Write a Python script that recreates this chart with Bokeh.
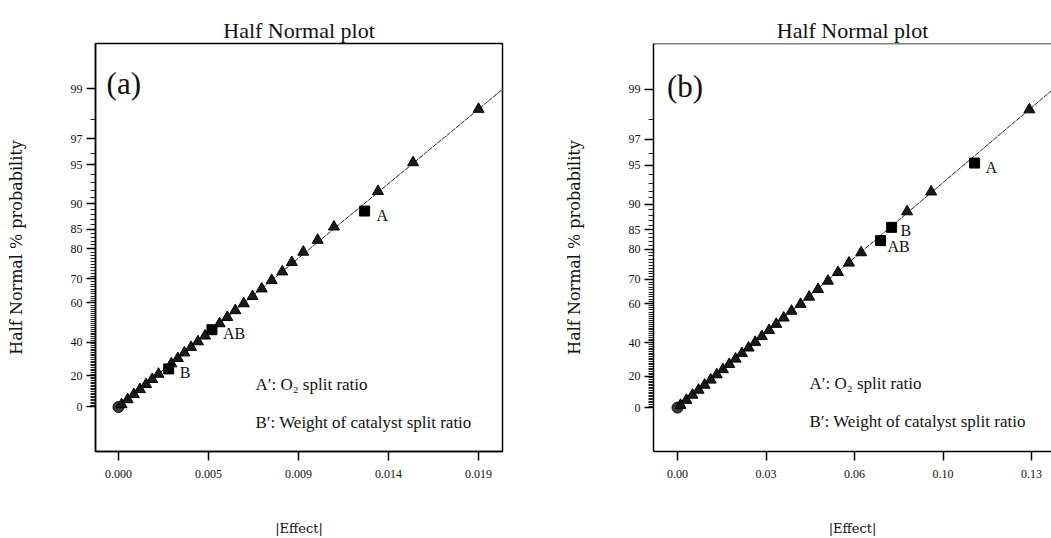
from statistics import NormalDist
from bokeh.plotting import figure
from bokeh.layouts import row
from bokeh.models import FixedTicker, Span, Label, ColumnDataSource, Range1d
from bokeh.embed import file_html
from bokeh.resources import INLINE

# ---------------- data ----------------
prob_a = [1.6, 4.8, 8.1, 11.3, 14.5, 17.7, 21.0, 27.4, 30.6, 33.9, 37.1, 40.3, 43.5,
          50.0, 53.2, 56.5, 59.7, 62.9, 66.1, 69.4, 72.6, 75.8, 79.0, 82.3, 85.5,
          91.9, 95.2, 98.4]
effect_a = [0.00016, 0.00048, 0.00080, 0.00112, 0.00144, 0.00176, 0.00209, 0.00276,
            0.00310, 0.00344, 0.00379, 0.00415, 0.00452, 0.00528, 0.00568, 0.00610,
            0.00654, 0.00700, 0.00748, 0.00800, 0.00855, 0.00905, 0.00965, 0.01040,
            0.01125, 0.01355, 0.01538, 0.01880]
sig_terms_a = ["B", "AB", "A"]
sig_prob_a = [24.2, 46.8, 88.7]
sig_effect_a = [0.00262, 0.00488, 0.01285]

prob_b = [1.6, 4.8, 8.1, 11.3, 14.5, 17.7, 21.0, 24.2, 27.4, 30.6, 33.9, 37.1, 40.3,
          43.5, 46.8, 50.0, 53.2, 56.5, 59.7, 62.9, 66.1, 69.4, 72.6, 75.8, 79.0,
          88.7, 91.9, 98.4]
effect_b = [0.0011, 0.0032, 0.0054, 0.0076, 0.0098, 0.0120, 0.0142, 0.0164, 0.0187,
            0.0210, 0.0233, 0.0257, 0.0281, 0.0305, 0.0331, 0.0357, 0.0384, 0.0412,
            0.0445, 0.0476, 0.0508, 0.0544, 0.0580, 0.0620, 0.0664, 0.0830, 0.0917,
            0.1272]
sig_terms_b = ["AB", "B", "A"]
sig_prob_b = [82.3, 85.5, 95.2]
sig_effect_b = [0.0734, 0.0774, 0.1074]

origin_effect = [0.0]
origin_prob = [0.0]

line_effect_a = [0.0, 0.0201]
line_prob_a = [0.0, 99.0]
line_effect_b = [0.0, 0.1359]
line_prob_b = [0.0, 99.0]

y_tick_probs = [0, 20, 40, 60, 70, 80, 85, 90, 95, 97, 99]
x_ticks_a = [0.0, 0.0047, 0.0094, 0.0141, 0.0188]
x_labels_a = ["0.000", "0.005", "0.009", "0.014", "0.019"]
x_ticks_b = [0.0, 0.032, 0.064, 0.096, 0.128]
x_labels_b = ["0.00", "0.03", "0.06", "0.10", "0.13"]

legend_lines = ["A\u2032: O\u2082 split ratio", "B\u2032: Weight of catalyst split ratio"]

ND = NormalDist()


def hz(p):
    if p == 0:
        return 0.0
    s = 1.0 if p > 0 else -1.0
    return s * ND.inv_cdf(0.5 + abs(p) / 200.0)


SERIF = "Liberation Serif"
WIDE_SERIF = "DejaVu Serif"


def make_panel(width, border_left, border_right, border_top, border_bottom,
               x_range, y_range, prob, eff, sig_terms, sig_prob, sig_eff,
               line_eff, line_prob, xt, xl, tag, tag_xy, leg_x, leg_z,
               lab_off, frame_right, title_off):
    p = figure(width=width, height=538, output_backend="svg", toolbar_location=None,
               x_range=Range1d(*x_range), y_range=Range1d(*y_range),
               min_border_left=border_left, min_border_right=border_right,
               min_border_top=border_top, min_border_bottom=border_bottom,
               background_fill_color="white", border_fill_color="white")
    p.title.text = "Half Normal plot"
    p.title.align = "center"
    p.title.text_font = SERIF
    p.title.text_font_size = "22px"
    p.title.text_font_style = "normal"
    p.title.text_color = "#111111"
    p.title.standoff = 2
    p.title.offset = title_off
    p.xgrid.visible = False
    p.ygrid.visible = False

    if frame_right:
        p.outline_line_color = "black"
        p.outline_line_width = 1.5
    else:
        p.outline_line_color = None
        p.add_layout(Span(location=y_range[1], dimension="width",
                          line_color="black", line_width=1.5))

    yt = [hz(v) for v in y_tick_probs]
    minor = [hz(v) for v in range(1, 99) if v not in y_tick_probs]
    yaxis = p.yaxis[0]
    yaxis.ticker = FixedTicker(ticks=yt, minor_ticks=minor)
    yaxis.major_label_overrides = {hz(v): str(v) for v in y_tick_probs}
    yaxis.axis_label = "Half Normal % probability"
    xaxis = p.xaxis[0]
    xaxis.ticker = FixedTicker(ticks=xt, minor_ticks=[])
    xaxis.major_label_overrides = {t: l for t, l in zip(xt, xl)}
    xaxis.axis_label = "|Effect|"

    for ax in (xaxis, yaxis):
        ax.axis_line_color = "black"
        ax.axis_line_width = 1.5
        ax.major_tick_line_color = "black"
        ax.major_tick_line_width = 1.5
        ax.minor_tick_line_color = "#222222"
        ax.minor_tick_line_width = 1
        ax.major_tick_in = 0
        ax.minor_tick_in = 0
        ax.major_label_text_font = SERIF
        ax.major_label_text_font_size = "12px"
        ax.major_label_text_color = "#111111"
        ax.axis_label_text_font = WIDE_SERIF
        ax.axis_label_text_font_style = "normal"
        ax.axis_label_text_color = "#111111"
    yaxis.major_tick_out = 9
    yaxis.minor_tick_out = 5
    yaxis.major_label_standoff = 4
    yaxis.axis_label_text_font_size = "16px"
    yaxis.axis_label_standoff = 42
    xaxis.major_tick_out = 9
    xaxis.minor_tick_out = 0
    xaxis.major_label_standoff = 9
    xaxis.axis_label_text_font_size = "13px"
    xaxis.axis_label_standoff = 40

    p.line(line_eff, [hz(v) for v in line_prob],
           line_color="#222222", line_width=1, line_dash="5 1")
    p.scatter(origin_effect, [hz(v) for v in origin_prob], marker="circle", size=11,
              fill_color="#3a3a3a", line_color="#111111")
    p.scatter(eff, [hz(v) for v in prob], marker="triangle", size=11,
              fill_color="#1a1a1a", line_color="#000000")
    src = ColumnDataSource(dict(x=sig_eff, y=[hz(v) for v in sig_prob], t=sig_terms,
                                xo=[o[0] for o in lab_off], yo=[o[1] for o in lab_off]))
    p.scatter("x", "y", source=src, marker="square", size=10,
              fill_color="#000000", line_color="#000000")
    p.text("x", "y", text="t", source=src, x_offset="xo", y_offset="yo",
           text_font={"value": SERIF}, text_font_size="16px", text_color="#111111",
           text_baseline="middle", text_align="left")

    p.add_layout(Label(x=tag_xy[0], y=tag_xy[1], text=tag, text_font=SERIF,
                       text_font_size="31px", text_color="#111111",
                       text_baseline="middle", text_align="left"))
    for txt, zz in zip(legend_lines, leg_z):
        p.add_layout(Label(x=leg_x, y=zz, text=txt, text_font=SERIF,
                           text_font_size="17px", text_color="#111111",
                           text_baseline="middle", text_align="left"))
    return p


pa = make_panel(525, 95, 23, 40, 85, (-0.0012, 0.02005), (-0.36, 2.94),
                prob_a, effect_a, sig_terms_a, sig_prob_a, sig_effect_a,
                line_effect_a, line_prob_a, x_ticks_a, x_labels_a,
                "(a)", (-0.00062, 2.62), 0.00715, [0.184, -0.128],
                [(11, 4), (11, 4), (12, 4)], True, -5)
pb = make_panel(526, 128, 0, 43, 86, (-0.00868, 0.1352), (-0.355, 2.944),
                prob_b, effect_b, sig_terms_b, sig_prob_b, sig_effect_b,
                line_effect_b, line_prob_b, x_ticks_b, x_labels_b,
                "(b)", (-0.0038, 2.6), 0.0477, [0.194, -0.113],
                [(7, 6), (9, 3), (11, 4)], False, -4)

layout = row(pa, pb)
open("out.html", "w").write(file_html(layout, INLINE))
